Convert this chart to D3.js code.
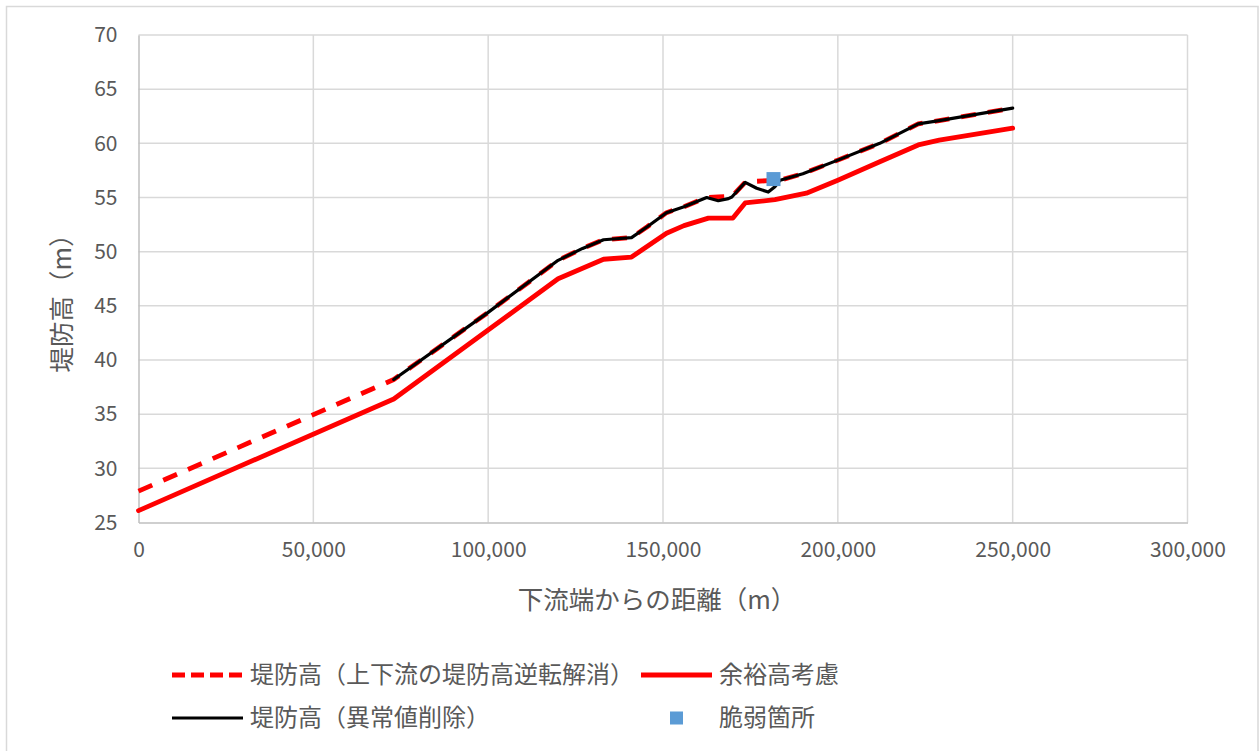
<!DOCTYPE html>
<html>
<head>
<meta charset="utf-8">
<script src="https://cdn.jsdelivr.net/npm/d3@7"></script>
<style>
  html, body { margin: 0; padding: 0; background: #fff; }
  svg { display: block; }
  text { font-family: "Noto Sans CJK JP", "Noto Sans", sans-serif; fill: #595959; }
</style>
</head>
<body>
<svg id="chart" width="1259" height="751"></svg>
<script>
// 堤防高（上下流の堤防高逆転解消）
const levelledDist = [0, 73000, 100000, 120000, 123500, 127000, 133000, 141000, 145500, 151000, 156000, 162500, 165800, 168700, 169700, 173500, 176800, 180100, 183500, 190000, 200000, 212000, 223000, 229000, 250000];
const levelledHeight = [27.9, 38.2, 44.4, 49.2, 49.75, 50.3, 51.1, 51.3, 52.3, 53.6, 54.15, 55.0, 55.05, 55.1, 55.1, 56.4, 56.5, 56.55, 56.6, 57.2, 58.45, 60.0, 61.8, 62.1, 63.25];

// 余裕高考慮
const marginDist = [0, 73000, 120000, 133000, 141000, 151000, 156000, 163000, 170000, 173500, 182000, 191000, 200000, 212000, 223000, 229000, 250000];
const marginHeight = [26.1, 36.4, 47.5, 49.3, 49.5, 51.7, 52.4, 53.1, 53.1, 54.5, 54.8, 55.4, 56.6, 58.3, 59.85, 60.3, 61.4];

// 堤防高（異常値削除）
const cleanedDist = [73000, 100000, 120000, 123500, 127000, 133000, 141000, 145500, 151000, 156000, 162500, 165800, 168700, 169700, 173500, 176800, 180100, 182000, 183500, 190000, 200000, 212000, 223000, 229000, 250000];
const cleanedHeight = [38.2, 44.4, 49.2, 49.75, 50.3, 51.1, 51.3, 52.3, 53.6, 54.15, 55.0, 54.7, 54.9, 55.05, 56.4, 55.85, 55.5, 56.0, 56.6, 57.2, 58.45, 60.0, 61.8, 62.1, 63.25];

// 脆弱箇所
const weakDist = [181600];
const weakHeight = [56.7];

const xTicks = [0, 50000, 100000, 150000, 200000, 250000, 300000];
const yTicks = [25, 30, 35, 40, 45, 50, 55, 60, 65, 70];

const xTitle = "下流端からの距離（m）";
const yTitle = "堤防高（m）";
const legendLabels = ["堤防高（上下流の堤防高逆転解消）", "余裕高考慮", "堤防高（異常値削除）", "脆弱箇所"];

const svg = d3.select("#chart");

// outer chart frame
svg.append("rect")
  .attr("x", 6.5).attr("y", 6.5)
  .attr("width", 1251.5).attr("height", 750)
  .attr("fill", "#fff").attr("stroke", "#d9d9d9").attr("stroke-width", 1.5);

const x = d3.scaleLinear().domain([0, 300000]).range([138.5, 1187.5]);
const y = d3.scaleLinear().domain([25, 70]).range([522.5, 35]);

// gridlines
const grid = svg.append("g");
grid.selectAll("line.v").data(xTicks.slice(1)).join("line")
  .attr("x1", d => x(d)).attr("x2", d => x(d))
  .attr("y1", y(70)).attr("y2", y(25))
  .attr("stroke", "#d9d9d9").attr("stroke-width", 1.5);
grid.selectAll("line.h").data(yTicks.slice(1)).join("line")
  .attr("x1", x(0)).attr("x2", x(300000))
  .attr("y1", d => y(d)).attr("y2", d => y(d))
  .attr("stroke", "#d9d9d9").attr("stroke-width", 1.5);

// axes
const xAxis = svg.append("g")
  .attr("transform", `translate(0,${y(25)})`)
  .call(d3.axisBottom(x).tickValues(xTicks).tickSize(0).tickPadding(20).tickFormat(d3.format(",")));
const yAxis = svg.append("g")
  .attr("transform", `translate(${x(0)},0)`)
  .call(d3.axisLeft(y).tickValues(yTicks).tickSize(0).tickPadding(21).tickFormat(d3.format("d")));
[xAxis, yAxis].forEach(g => {
  g.select(".domain").attr("stroke", "#bfbfbf").attr("stroke-width", 1.5);
  g.selectAll("text").attr("font-size", 21).attr("fill", "#595959")
    .style("font-family", "'Noto Sans CJK JP', sans-serif");
});
xAxis.selectAll("text").attr("dy", "0.71em");

// axis titles
svg.append("text")
  .attr("x", 657).attr("y", 600)
  .attr("dy", "0.35em")
  .attr("text-anchor", "middle").attr("font-size", 25.5)
  .text(xTitle);
svg.append("text")
  .attr("transform", `translate(62,297) rotate(-90)`)
  .attr("dy", "0.35em")
  .attr("text-anchor", "middle").attr("font-size", 25.5)
  .text(yTitle);

const line = d3.line().x(d => x(d[0])).y(d => y(d[1]));
const zip = (a, b) => a.map((v, i) => [v, b[i]]);

// 余裕高考慮
svg.append("path").datum(zip(marginDist, marginHeight))
  .attr("d", line).attr("fill", "none")
  .attr("stroke", "#ff0000").attr("stroke-width", 4.8)
  .attr("stroke-linejoin", "round").attr("stroke-linecap", "round");

// 堤防高（上下流の堤防高逆転解消）
svg.append("path").datum(zip(levelledDist, levelledHeight))
  .attr("d", line).attr("fill", "none")
  .attr("stroke", "#ff0000").attr("stroke-width", 4.8)
  .attr("stroke-dasharray", "15,12")
  .attr("stroke-linejoin", "round");

// 堤防高（異常値削除）
svg.append("path").datum(zip(cleanedDist, cleanedHeight))
  .attr("d", line).attr("fill", "none")
  .attr("stroke", "#000000").attr("stroke-width", 3.2)
  .attr("stroke-linejoin", "round").attr("stroke-linecap", "round");

// 脆弱箇所
const markerSize = 14;
svg.selectAll("rect.weak").data(zip(weakDist, weakHeight)).join("rect")
  .attr("class", "weak")
  .attr("x", d => x(d[0]) - markerSize / 2).attr("y", d => y(d[1]) - markerSize / 2)
  .attr("width", markerSize).attr("height", markerSize)
  .attr("fill", "#5b9bd5");

// legend
const legend = svg.append("g");
const items = [
  { label: legendLabels[0], type: "dash", lx: 172, tx: 250, ty: 675 },
  { label: legendLabels[1], type: "solid", lx: 641, tx: 719, ty: 675 },
  { label: legendLabels[2], type: "black", lx: 172, tx: 250, ty: 718 },
  { label: legendLabels[3], type: "square", lx: 641, tx: 719, ty: 718 }
];
items.forEach(it => {
  if (it.type === "square") {
    legend.append("rect")
      .attr("x", it.lx + 29).attr("y", it.ty - 6.5)
      .attr("width", 13).attr("height", 13).attr("fill", "#5b9bd5");
  } else {
    legend.append("line")
      .attr("x1", it.lx).attr("x2", it.lx + 71)
      .attr("y1", it.ty).attr("y2", it.ty)
      .attr("stroke", it.type === "black" ? "#000" : "#ff0000")
      .attr("stroke-width", it.type === "black" ? 3.2 : 4.8)
      .attr("stroke-dasharray", it.type === "dash" ? "13,6" : null);
  }
  legend.append("text")
    .attr("x", it.tx).attr("y", it.ty)
    .attr("dy", "0.35em").attr("font-size", 24)
    .text(it.label);
});
</script>
</body>
</html>
